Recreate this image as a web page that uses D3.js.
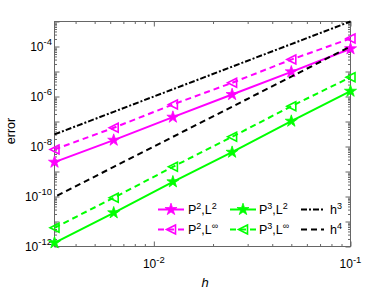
<!DOCTYPE html>
<html>
<head>
<meta charset="utf-8">
<script src="https://cdn.jsdelivr.net/npm/d3@7"></script>
<style>
  body { margin: 0; background: #fff; }
  svg text { font-family: "Liberation Sans", Arial, sans-serif; fill: #000; }
</style>
</head>
<body>
<svg id="chart" width="388" height="291"></svg>
<script>
// mesh sizes and errors
var hVals = [0.003125, 0.00625, 0.0125, 0.025, 0.05, 0.1]
var p2L2 = [2.36e-9, 1.79e-8, 1.49e-7, 1.20e-6, 9.7e-6, 8.1e-5]
var p2Linf = [7.6e-9, 5.6e-8, 4.8e-7, 3.53e-6, 3.0e-5, 2.09e-4]
var p3L2 = [1.41e-12, 2.23e-11, 3.87e-10, 5.9e-9, 1.03e-7, 1.63e-6]
var p3Linf = [5.6e-12, 8.9e-11, 1.54e-9, 2.44e-8, 4.09e-7, 5.9e-6]
var refH3 = [3.05e-8, 2.44e-7, 1.95e-6, 1.56e-5, 1.25e-4, 1e-3]
var refH4 = [9.5e-11, 1.53e-9, 2.44e-8, 3.9e-7, 6.25e-6, 1e-4]

var xMajor = [0.01, 0.1]
var xMinor = [0.004, 0.005, 0.006, 0.007, 0.008, 0.009, 0.02, 0.03, 0.04, 0.05, 0.06, 0.07, 0.08, 0.09]
var yLabeled = [-12, -10, -8, -6, -4]
var yDecades = [-12, -11, -10, -9, -8, -7, -6, -5, -4, -3]

var series = [
  {name: ['P', '2', ',L', '2'], vals: p2L2, color: '#ff00ff', dash: null, marker: 'star'},
  {name: ['P', '2', ',L', '∞'], vals: p2Linf, color: '#ff00ff', dash: '6,4', marker: 'tri'},
  {name: ['P', '3', ',L', '2'], vals: p3L2, color: '#00ff00', dash: null, marker: 'star'},
  {name: ['P', '3', ',L', '∞'], vals: p3Linf, color: '#00ff00', dash: '6,4', marker: 'tri'},
  {name: ['h', '3'], vals: refH3, color: '#000', dash: '6,2,2,2', marker: null},
  {name: ['h', '4'], vals: refH4, color: '#000', dash: '6,4', marker: null, offset: 7}
]

var L = 54.5, R = 350.5, T = 21.5, B = 246.5
var svg = d3.select('#chart')

var x = d3.scaleLog().domain([1/320, 0.1]).range([L, R])
var y = d3.scaleLog().domain([1e-12, 1e-3]).range([B, T])

var axisColor = '#666'

// minor y ticks 2..9 of each decade
var yMinor = []
yDecades.slice(0, -1).forEach(function(e){
  for (var k = 2; k <= 9; k++) yMinor.push(k * Math.pow(10, e))
})
var yMajor = yDecades.map(function(e){ return Math.pow(10, e) })

function styleAxis(g){
  g.select('.domain').remove()
  g.selectAll('line').attr('stroke', axisColor)
}

svg.append('g').attr('transform', 'translate(0,' + B + ')')
  .call(d3.axisBottom(x).tickValues(xMinor).tickSize(-2.5).tickFormat('')).call(styleAxis)
svg.append('g').attr('transform', 'translate(0,' + B + ')')
  .call(d3.axisBottom(x).tickValues(xMajor).tickSize(-5).tickFormat('')).call(styleAxis)
svg.append('g').attr('transform', 'translate(0,' + T + ')')
  .call(d3.axisTop(x).tickValues(xMinor).tickSize(-2.5).tickFormat('')).call(styleAxis)
svg.append('g').attr('transform', 'translate(0,' + T + ')')
  .call(d3.axisTop(x).tickValues(xMajor).tickSize(-5).tickFormat('')).call(styleAxis)

svg.append('g').attr('transform', 'translate(' + L + ',0)')
  .call(d3.axisLeft(y).tickValues(yMinor).tickSize(-2.5).tickFormat('')).call(styleAxis)
svg.append('g').attr('transform', 'translate(' + L + ',0)')
  .call(d3.axisLeft(y).tickValues(yMajor).tickSize(-5).tickFormat('')).call(styleAxis)
svg.append('g').attr('transform', 'translate(' + R + ',0)')
  .call(d3.axisRight(y).tickValues(yMinor).tickSize(-2.5).tickFormat('')).call(styleAxis)
svg.append('g').attr('transform', 'translate(' + R + ',0)')
  .call(d3.axisRight(y).tickValues(yMajor).tickSize(-5).tickFormat('')).call(styleAxis)

svg.append('rect')
  .attr('x', L).attr('y', T).attr('width', R - L).attr('height', B - T)
  .attr('fill', 'none').attr('stroke', axisColor)

// tick labels with superscript exponents
function powLabel(sel, e){
  sel.append('tspan').text('10')
  sel.append('tspan').attr('dy', -5.5).attr('font-size', 9.5).text(e)
}
xMajor.forEach(function(v){
  svg.append('text').attr('x', x(v)).attr('y', 268).attr('text-anchor', 'middle')
    .attr('font-size', 12).call(powLabel, '-' + Math.round(-Math.log10(v)))
})
yLabeled.forEach(function(e){
  svg.append('text').attr('x', 52).attr('y', y(Math.pow(10, e)) + 4).attr('text-anchor', 'end')
    .attr('font-size', 12).call(powLabel, String(e))
})

svg.append('text').attr('transform', 'translate(15,131) rotate(-90)')
  .attr('text-anchor', 'middle').attr('font-size', 12.5).text('error')
svg.append('text').attr('x', 205).attr('y', 287).attr('text-anchor', 'middle')
  .attr('font-size', 13).attr('font-style', 'italic').text('h')

var line = d3.line().x(function(d, i){ return x(hVals[i]) }).y(function(d){ return y(d) })
var star = d3.symbol(d3.symbolStar, 45)

function drawMarker(g, type, color){
  if (type == 'star'){
    g.append('path').attr('d', star()).attr('fill', color).attr('stroke', color).attr('stroke-width', 0.8)
  } else if (type == 'tri'){
    g.append('path').attr('d', 'M4.5,-4.5L-4.5,0L4.5,4.5Z')
      .attr('fill', 'none').attr('stroke', color).attr('stroke-width', 1.6)
  }
}

var plot = svg.append('g')
series.forEach(function(s){
  plot.append('path').attr('d', line(s.vals))
    .attr('fill', 'none').attr('stroke', s.color).attr('stroke-width', 2)
    .attr('stroke-dasharray', s.dash).attr('stroke-dashoffset', s.offset || 0)
  if (s.marker){
    s.vals.forEach(function(v, i){
      plot.append('g').attr('transform', 'translate(' + x(hVals[i]) + ',' + y(v) + ')')
        .call(drawMarker, s.marker, s.color)
    })
  }
})

// legend: 3 columns x 2 rows
var legCols = [{x0: 158, x1: 184, tx: 188}, {x0: 230, x1: 256, tx: 259}, {x0: 301, x1: 324, tx: 330}]
var legRows = [209.5, 229.5]
var legOrder = [[0, 0], [0, 1], [1, 0], [1, 1], [2, 0], [2, 1]]
series.forEach(function(s, i){
  var c = legCols[legOrder[i][0]], ry = legRows[legOrder[i][1]]
  var g = svg.append('g')
  g.append('line').attr('x1', c.x0).attr('x2', c.x1).attr('y1', ry).attr('y2', ry)
    .attr('stroke', s.color).attr('stroke-width', 2).attr('stroke-dasharray', s.dash)
  if (s.marker){
    g.append('g').attr('transform', 'translate(' + (c.x0 + c.x1) / 2 + ',' + ry + ')')
      .call(drawMarker, s.marker, s.color)
  }
  var t = g.append('text').attr('x', c.tx).attr('y', ry + 4.5).attr('font-size', 12.5)
  s.name.forEach(function(part, j){
    if (j % 2 == 0) t.append('tspan').attr('dy', j == 0 ? 0 : 5).attr('font-size', 12.5).text(part)
    else t.append('tspan').attr('dy', -5).attr('font-size', 9).text(part)
  })
})
</script>
</body>
</html>
